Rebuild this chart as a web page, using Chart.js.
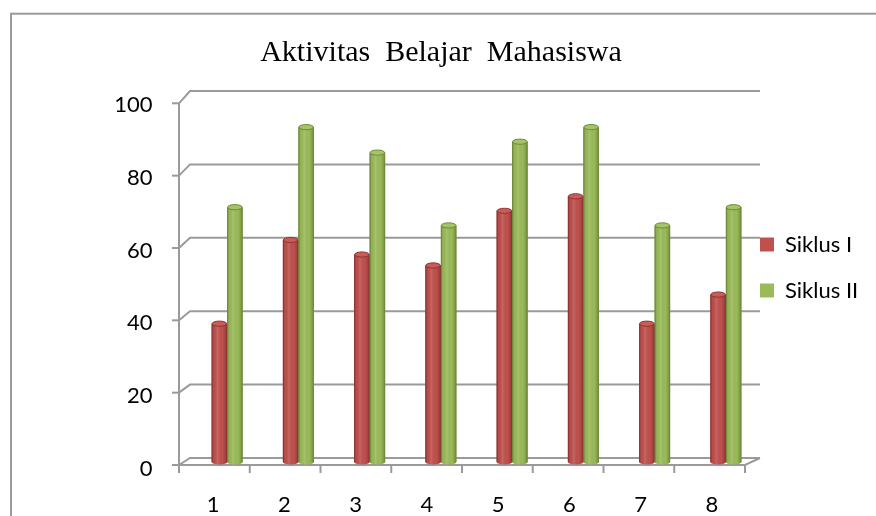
<!DOCTYPE html>
<html>
<head>
<meta charset="utf-8">
<script src="https://cdn.jsdelivr.net/npm/chart.js@4/dist/chart.umd.min.js"></script>
<style>
  html, body { margin: 0; padding: 0; background: #ffffff; }
  #wrap { position: relative; width: 876px; height: 516px; }
</style>
</head>
<body>
<div id="wrap"><canvas id="c"></canvas></div>
<script>
// ---------------- data ----------------
const chartTitle = 'Aktivitas  Belajar  Mahasiswa';
const categories = ['1', '2', '3', '4', '5', '6', '7', '8'];
const siklusI  = [38, 61, 57, 54, 69, 73, 38, 46];
const siklusII = [70, 92, 85, 65, 88, 92, 65, 70];
const seriesNames = ['Siklus I', 'Siklus II'];
const yMin = 0, yMax = 100, yStep = 20;

// ---------------- styles / layout ----------------
const W = 876, H = 516;
const seriesColors = ['#C0504D', '#9BBB59'];
const seriesEdges  = ['#8E3532', '#6F8A3A'];
const seriesTops   = ['#C95C59', '#A6C466'];
const TICK_FONT = { family: 'Lato', size: 22 };
const LEG_PAD = 24, BOX = 14;
const PLOT_L = 191.5, PLOT_R = 736, X_AXIS_H = 54, CAT_W = 71.25;

const mctx = document.createElement('canvas').getContext('2d');
mctx.font = 'normal ' + TICK_FONT.size + 'px ' + TICK_FONT.family;
const tw = Math.max(...seriesNames.map(s => mctx.measureText(s).width));
const legendW = LEG_PAD + BOX + TICK_FONT.size / 2 + tw + 10;
const padR = W - PLOT_R - legendW;
const padL = padR + 6;

const frame3d = {
  id: 'frame3d',
  beforeDraw(chart) {
    const ctx = chart.ctx;
    ctx.save();
    ctx.strokeStyle = '#9a9a9a';
    ctx.lineWidth = 2;
    ctx.strokeRect(11, 13.7, W + 40, H + 40);
    ctx.restore();
  },
  beforeDatasetsDraw(chart) {
    const { ctx } = chart;
    const x = chart.scales.x, y = chart.scales.y;
    const x0 = 0.5, x1 = categories.length + 0.5;
    const bx = v => x.getPixelForValue(v) - 1.5;
    const fx = v => bx(x0) - 11 + (x.getPixelForValue(v) - x.getPixelForValue(x0)) * 0.993;
    const by = v => y.getPixelForValue(v) - 4 - 0.03 * v;
    const fy = v => y.getPixelForValue(v) + 3 + 0.023 * v;
    ctx.save();
    ctx.strokeStyle = '#9a9a9a';
    ctx.lineWidth = 2;
    ctx.lineJoin = 'miter';
    y.ticks.forEach(t => {
      const v = t.value;
      ctx.beginPath();
      ctx.moveTo(fx(x0), fy(v));
      ctx.lineTo(bx(x0), by(v));
      ctx.lineTo(bx(x1), by(v));
      ctx.stroke();
      ctx.beginPath();
      ctx.moveTo(fx(x0) - 7, fy(v));
      ctx.lineTo(fx(x0), fy(v));
      ctx.stroke();
    });
    // front vertical axis
    ctx.beginPath();
    ctx.moveTo(fx(x0), fy(yMin) + 1);
    ctx.lineTo(fx(x0), fy(yMax));
    ctx.stroke();
    // floor front edge + right side
    ctx.beginPath();
    ctx.moveTo(fx(x0), fy(yMin));
    ctx.lineTo(fx(x1), fy(yMin));
    ctx.lineTo(bx(x1), by(yMin));
    ctx.stroke();
    // category ticks
    for (let k = 0; k <= categories.length; k++) {
      const v = x0 + k;
      ctx.beginPath();
      ctx.moveTo(fx(v), fy(yMin));
      ctx.lineTo(fx(v), fy(yMin) + 8);
      ctx.stroke();
    }
    ctx.restore();
  },
  afterDatasetsDraw(chart) {
    const ctx = chart.ctx;
    ctx.save();
    chart.getSortedVisibleDatasetMetas().forEach(meta => {
      const di = meta.index;
      meta.data.forEach(el => {
        const { x, y, base, width } = el.getProps(['x', 'y', 'base', 'width'], true);
        const l = x - width / 2, r = x + width / 2, ry = 2.6;
        // rounded bottom
        ctx.beginPath();
        ctx.ellipse(x, base, width / 2, ry, 0, 0, Math.PI);
        ctx.fillStyle = seriesColors[di];
        ctx.fill();
        // cylinder shading
        const g = ctx.createLinearGradient(l, 0, r, 0);
        g.addColorStop(0, 'rgba(0,0,0,0.20)');
        g.addColorStop(0.15, 'rgba(0,0,0,0.04)');
        g.addColorStop(0.38, 'rgba(255,255,255,0.12)');
        g.addColorStop(0.7, 'rgba(0,0,0,0.0)');
        g.addColorStop(1, 'rgba(0,0,0,0.26)');
        ctx.fillStyle = g;
        ctx.beginPath();
        ctx.moveTo(l, y);
        ctx.lineTo(r, y);
        ctx.lineTo(r, base);
        ctx.ellipse(x, base, width / 2, ry, 0, 0, Math.PI);
        ctx.closePath();
        ctx.fill();
        // side edges
        ctx.strokeStyle = seriesEdges[di];
        ctx.lineWidth = 1;
        ctx.beginPath();
        ctx.moveTo(l + 0.5, y);
        ctx.lineTo(l + 0.5, base);
        ctx.moveTo(r - 0.5, y);
        ctx.lineTo(r - 0.5, base);
        ctx.stroke();
        // top cap
        ctx.beginPath();
        ctx.ellipse(x, y, width / 2 - 0.5, ry, 0, 0, Math.PI * 2);
        ctx.fillStyle = seriesTops[di];
        ctx.fill();
        ctx.strokeStyle = seriesEdges[di];
        ctx.stroke();
      });
    });
    ctx.restore();
  }
};

Chart.defaults.font.family = TICK_FONT.family;
Chart.defaults.font.size = TICK_FONT.size;
Chart.defaults.color = '#000000';

new Chart(document.getElementById('c'), {
  type: 'bar',
  data: {
    labels: categories,
    datasets: [
      { label: seriesNames[0], data: siklusI, backgroundColor: seriesColors[0], borderWidth: 0, clip: false },
      { label: seriesNames[1], data: siklusII, backgroundColor: seriesColors[1], borderWidth: 0, clip: false }
    ]
  },
  options: {
    responsive: true,
    maintainAspectRatio: false,
    devicePixelRatio: 1,
    animation: false,
    events: [],
    barPercentage: 1,
    categoryPercentage: 0.435,
    layout: { padding: { left: padL, right: padR, top: 0, bottom: 0 } },
    plugins: {
      title: {
        display: true,
        text: chartTitle,
        color: '#000000',
        font: { family: 'Liberation Serif', size: 30, weight: 'normal' },
        padding: { top: 35, bottom: 27 }
      },
      legend: {
        display: true,
        position: 'right',
        align: 'start',
        title: { display: true, text: '', font: { size: 10 }, padding: { top: 0, bottom: 197.5 } },
        labels: {
          boxWidth: BOX,
          boxHeight: BOX,
          padding: LEG_PAD,
          color: '#000000',
          font: { family: TICK_FONT.family, size: TICK_FONT.size }
        }
      },
      tooltip: { enabled: false }
    },
    scales: {
      x: {
        type: 'linear',
        offset: false,
        min: 0.5,
        max: 0.5 + (PLOT_R - PLOT_L) / CAT_W,
        grid: { display: false, drawTicks: false },
        border: { display: false },
        afterFit: s => { s.height = X_AXIS_H; },
        ticks: {
          stepSize: 1,
          includeBounds: false,
          autoSkip: false,
          maxRotation: 0,
          minRotation: 0,
          padding: 30,
          labelOffset: -14,
          callback: v => categories[v - 1]
        }
      },
      y: {
        type: 'linear',
        min: yMin,
        max: yMax,
        grid: { display: false, drawTicks: false },
        border: { display: false },
        afterFit: s => { s.width = PLOT_L - padL; },
        ticks: { stepSize: yStep, padding: 39, labelOffset: 7 }
      }
    }
  },
  plugins: [frame3d]
});
</script>
</body>
</html>
